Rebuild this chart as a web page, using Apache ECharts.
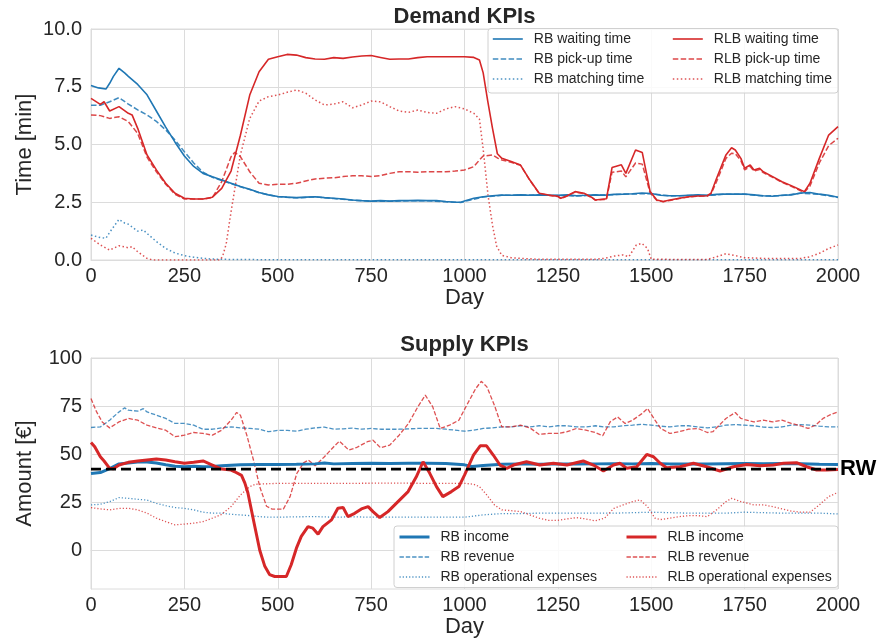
<!DOCTYPE html>
<html><head><meta charset="utf-8">
<script src="https://cdn.jsdelivr.net/npm/echarts@6/dist/echarts.min.js"></script>
<style>html,body{margin:0;padding:0;background:#fff}#c{width:880px;height:643px}</style>
</head><body><div id="c"></div>
<script>
// ---------- Data (day, value) ----------
const dayTicks = [0, 250, 500, 750, 1000, 1250, 1500, 1750, 2000];
const timeTicks = [0, 2.5, 5, 7.5, 10];
const amountTicks = [0, 25, 50, 75, 100];
const rwLevel = 42.3;

const rbWaiting = [[0,7.55],[20,7.45],[40,7.4],[50,7.65],[60,7.95],[75,8.3],[90,8.1],[100,7.95],[125,7.6],[150,7.15],[175,6.45],[200,5.75],[225,5.1],[250,4.5],[275,4.05],[300,3.75],[325,3.6],[350,3.46],[375,3.32],[400,3.18],[425,3.06],[450,2.92],[475,2.82],[500,2.75],[525,2.72],[550,2.7],[575,2.72],[600,2.74],[625,2.7],[650,2.67],[675,2.64],[700,2.6],[725,2.57],[750,2.55],[775,2.57],[800,2.55],[825,2.57],[850,2.57],[875,2.58],[900,2.57],[925,2.57],[950,2.53],[975,2.5],[990,2.5],[1000,2.55],[1025,2.67],[1050,2.74],[1075,2.78],[1100,2.81],[1125,2.8],[1150,2.82],[1175,2.8],[1200,2.82],[1225,2.8],[1250,2.8],[1275,2.82],[1300,2.78],[1325,2.8],[1350,2.82],[1375,2.8],[1400,2.84],[1425,2.85],[1450,2.87],[1475,2.9],[1500,2.88],[1525,2.8],[1550,2.78],[1575,2.78],[1600,2.8],[1625,2.82],[1650,2.8],[1675,2.84],[1700,2.86],[1725,2.85],[1750,2.86],[1775,2.82],[1800,2.78],[1825,2.76],[1850,2.8],[1875,2.82],[1900,2.9],[1925,2.92],[1950,2.85],[1975,2.8],[2000,2.72]];
const rbPickup = [[0,6.7],[25,6.7],[50,6.85],[75,7.03],[100,6.75],[125,6.5],[150,6.28],[175,6.0],[200,5.63],[225,5.19],[250,4.69],[275,4.2],[300,3.8],[325,3.58],[350,3.44],[375,3.31],[400,3.17],[425,3.05],[450,2.91],[500,2.74],[550,2.69],[600,2.73],[650,2.66],[700,2.59],[750,2.54],[800,2.54],[850,2.56],[900,2.56],[950,2.52],[990,2.49],[1050,2.73],[1100,2.8],[1150,2.81],[1200,2.81],[1250,2.79],[1300,2.77],[1350,2.81],[1400,2.83],[1450,2.86],[1500,2.87],[1550,2.77],[1600,2.79],[1650,2.79],[1700,2.85],[1750,2.85],[1800,2.77],[1850,2.79],[1900,2.89],[1950,2.84],[2000,2.71]];
const rbMatching = [[0,1.08],[25,0.97],[40,0.94],[50,1.2],[75,1.76],[90,1.6],[100,1.55],[125,1.25],[140,1.3],[150,1.15],[175,0.8],[200,0.5],[225,0.3],[250,0.19],[275,0.12],[300,0.07],[325,0.04],[350,0.03],[400,0.02],[500,0.01],[1000,0.01],[1500,0.01],[2000,0.01]];
const rlbWaiting = [[0,7.0],[25,6.74],[35,6.85],[50,6.45],[75,6.64],[100,6.35],[110,6.28],[125,5.7],[150,4.55],[175,3.9],[200,3.32],[225,2.89],[250,2.67],[275,2.64],[300,2.64],[325,2.72],[350,3.1],[375,3.85],[400,5.4],[425,7.14],[450,8.15],[475,8.69],[500,8.8],[525,8.9],[550,8.87],[575,8.76],[600,8.7],[625,8.69],[650,8.76],[675,8.73],[700,8.79],[725,8.83],[750,8.85],[775,8.77],[800,8.69],[825,8.7],[850,8.7],[875,8.76],[900,8.8],[925,8.8],[950,8.8],[975,8.8],[1000,8.8],[1025,8.77],[1040,8.66],[1050,8.1],[1062,6.9],[1075,5.7],[1088,4.6],[1100,4.4],[1125,4.26],[1150,4.11],[1175,3.46],[1200,2.89],[1225,2.81],[1250,2.76],[1258,2.67],[1275,2.78],[1296,2.96],[1320,2.89],[1340,2.72],[1350,2.6],[1380,2.65],[1395,4.0],[1420,4.12],[1432,3.75],[1458,4.76],[1476,4.65],[1497,2.96],[1515,2.6],[1532,2.53],[1550,2.6],[1575,2.67],[1600,2.74],[1625,2.77],[1650,2.78],[1660,2.89],[1675,3.54],[1700,4.55],[1715,4.86],[1725,4.76],[1740,4.4],[1750,3.97],[1765,4.11],[1775,3.9],[1790,3.97],[1800,3.82],[1825,3.61],[1850,3.39],[1875,3.22],[1900,3.03],[1910,2.96],[1925,3.32],[1950,4.4],[1975,5.41],[2000,5.77]];
const rlbPickup = [[0,6.28],[25,6.25],[50,6.13],[75,6.2],[100,5.99],[125,5.48],[150,4.45],[175,3.82],[200,3.28],[225,2.84],[250,2.64],[275,2.64],[300,2.64],[325,2.7],[350,3.39],[375,4.47],[385,4.66],[400,4.47],[425,3.82],[450,3.32],[475,3.25],[500,3.28],[525,3.28],[550,3.32],[575,3.42],[600,3.51],[625,3.54],[650,3.56],[675,3.61],[700,3.65],[725,3.65],[750,3.61],[775,3.65],[800,3.75],[825,3.82],[850,3.82],[875,3.8],[900,3.82],[925,3.82],[950,3.82],[975,3.85],[1000,3.9],[1025,4.04],[1040,4.33],[1050,4.5],[1075,4.55],[1090,4.4],[1100,4.33],[1125,4.23],[1150,4.1],[1175,3.45],[1200,2.88],[1225,2.8],[1250,2.75],[1258,2.66],[1275,2.77],[1296,2.94],[1320,2.87],[1340,2.71],[1350,2.59],[1380,2.63],[1395,3.8],[1420,3.85],[1432,3.6],[1458,4.2],[1476,4.15],[1497,2.9],[1515,2.58],[1532,2.52],[1550,2.58],[1575,2.66],[1600,2.73],[1625,2.76],[1650,2.77],[1660,2.85],[1675,3.4],[1700,4.4],[1715,4.62],[1725,4.6],[1740,4.3],[1750,3.9],[1765,4.05],[1775,3.85],[1790,3.92],[1800,3.78],[1825,3.58],[1850,3.36],[1875,3.19],[1900,3.0],[1910,2.93],[1925,3.2],[1950,4.2],[1975,4.95],[2000,5.27]];
const rlbMatching = [[0,0.94],[25,0.65],[50,0.43],[75,0.62],[100,0.53],[110,0.58],[125,0.36],[150,0.07],[165,0],[345,0],[352,0.14],[362,0.7],[375,2.09],[400,4.55],[425,6.13],[450,6.88],[475,7.07],[500,7.14],[525,7.26],[550,7.36],[575,7.22],[600,6.93],[625,6.71],[650,6.75],[675,6.85],[700,6.59],[725,6.71],[750,6.88],[775,6.85],[800,6.64],[825,6.45],[850,6.39],[875,6.49],[900,6.39],[925,6.35],[950,6.54],[975,6.64],[1000,6.54],[1025,6.35],[1040,6.1],[1050,4.8],[1063,2.8],[1075,1.5],[1086,0.6],[1100,0.2],[1125,0.1],[1150,0.07],[1200,0.03],[1350,0.03],[1375,0.07],[1400,0.17],[1425,0.22],[1440,0.14],[1460,0.65],[1475,0.72],[1490,0.5],[1500,0.03],[1650,0.02],[1675,0.14],[1700,0.27],[1725,0.19],[1750,0.1],[1800,0.07],[1900,0.07],[1925,0.14],[1950,0.29],[1975,0.5],[2000,0.65]];

const rbIncome = [[0,40],[25,40.5],[50,42.5],[75,45],[100,45.5],[125,46],[150,46],[175,45.5],[200,44.5],[225,43.8],[250,43.5],[275,43.8],[300,43.5],[325,43.6],[350,44],[375,44.3],[400,44.5],[450,44.7],[500,44.7],[550,44.8],[600,45],[625,45.5],[650,45],[700,45.2],[750,45.3],[800,45.2],[850,45.3],[900,45.3],[950,45.2],[1000,44.5],[1020,43.6],[1050,44.2],[1100,44.8],[1150,45],[1200,44.8],[1250,45],[1300,44.9],[1350,45],[1400,45.1],[1450,45],[1500,45.2],[1550,45],[1600,45],[1650,44.9],[1700,45.1],[1750,45.2],[1800,45.1],[1850,45.2],[1900,45.1],[1950,44.8],[2000,44.7]];
const rbRevenue = [[0,63.9],[25,64.2],[50,67.7],[75,72],[90,74.1],[100,72.9],[125,72.4],[140,73.7],[150,72],[175,70.3],[200,68.6],[225,66],[250,66],[275,65.1],[300,63],[325,63],[350,63.7],[375,64.2],[400,63.7],[425,63.4],[450,63],[475,61.7],[500,62.4],[525,62.4],[550,62],[575,63],[600,63.7],[625,64.1],[650,63],[675,63.2],[700,63.6],[725,63],[750,63.4],[775,63],[800,63],[825,63],[850,63.2],[875,63.4],[900,63.4],[925,63.4],[950,63],[975,62.5],[1000,62],[1025,62.5],[1050,63.4],[1075,63.7],[1100,64.2],[1125,64.2],[1150,64.8],[1175,64.2],[1200,64.8],[1225,64.2],[1250,64.8],[1275,64.8],[1300,64.2],[1325,64.2],[1350,64.8],[1375,64.2],[1400,64.2],[1425,64.8],[1450,65.1],[1475,65.6],[1500,65.1],[1525,64.6],[1550,64.2],[1575,64.8],[1600,64.8],[1625,64.2],[1650,63.7],[1675,64.2],[1700,65.1],[1725,65.4],[1750,65.1],[1775,64.8],[1800,64.1],[1825,63.9],[1850,64.2],[1875,65.1],[1900,65.4],[1925,65.1],[1950,64.6],[1975,64.2],[2000,64.2]];
const rbOpex = [[0,23.7],[25,24],[50,25.4],[75,27.5],[100,27.1],[125,26.6],[150,26.2],[175,24.5],[200,23.3],[225,22.3],[250,21.9],[275,21.1],[300,19.9],[325,19.4],[350,19.4],[375,18.8],[400,18.5],[425,18.1],[450,17.6],[475,17.3],[500,17.3],[550,17.5],[600,17.6],[650,17.3],[700,17.5],[750,17.3],[800,17.3],[900,17.3],[1000,17.3],[1050,18.5],[1100,19.2],[1150,19.2],[1200,19.4],[1300,19.4],[1400,19.4],[1500,19.9],[1600,19.4],[1700,19.4],[1750,19.9],[1850,19.4],[1950,19.4],[2000,19]];
const rlbIncome = [[0,56.1],[10,53.9],[25,48.7],[35,46.5],[50,42.7],[60,42.5],[75,44.4],[100,45.8],[125,46.5],[150,47],[175,47.5],[200,47],[225,46.1],[250,45.3],[275,45.8],[300,46.5],[325,44.4],[350,42.3],[375,41.8],[385,40.9],[403,39],[412,35],[420,30],[438,13],[452,0],[465,-8],[478,-12.5],[492,-13.5],[523,-13.5],[536,-7.4],[550,1.2],[563,7.3],[581,12.4],[594,11.6],[608,8.5],[621,12.4],[644,15.9],[661,21.9],[675,22.3],[688,17.6],[706,19.3],[724,21.6],[742,22.8],[755,20.2],[773,17.1],[795,20.2],[822,25.4],[849,30.6],[871,38.3],[889,46.1],[907,40.1],[925,33.2],[942,28],[965,30.6],[985,33.2],[1000,39.2],[1006,41.8],[1024,49.6],[1042,54.4],[1059,54.4],[1077,49.6],[1095,44.4],[1113,42.7],[1131,44.4],[1166,46.1],[1202,44.4],[1238,45.3],[1274,44.4],[1318,46.5],[1345,44.4],[1372,41.3],[1399,44.4],[1416,45.3],[1434,42.7],[1461,43.5],[1488,49.9],[1506,48.7],[1524,45.3],[1541,43],[1577,43.5],[1613,45.3],[1648,43.5],[1684,41.3],[1720,43.5],[1756,44.7],[1791,44],[1827,44.4],[1854,45.3],[1889,45.6],[1916,43.5],[1943,41.8],[1970,41.8],[2000,42.1]];
const rlbRevenue = [[0,78.9],[15,72],[30,66.8],[50,63.7],[75,66.8],[100,68.6],[125,67.7],[150,65.1],[175,63.7],[200,62.5],[225,59.1],[250,59.9],[275,61.3],[300,60.8],[325,59.9],[350,62.5],[375,67.7],[390,71.7],[400,70.3],[417,60],[435,47],[452,33],[470,23],[485,21.5],[515,21.5],[533,28],[551,40],[569,45.5],[582,47],[600,44],[625,48.7],[650,53.9],[665,56.8],[690,52.2],[710,53.4],[740,56.5],[755,57.3],[775,53.4],[800,54.8],[825,59.9],[850,66],[875,74.6],[895,80.7],[915,74.6],[935,63.4],[960,65.1],[985,67.7],[1006,75.5],[1030,84.1],[1045,87.9],[1060,85],[1080,75.5],[1100,64.2],[1125,64.2],[1150,65.1],[1175,63.7],[1200,60.3],[1225,60.8],[1250,60.8],[1275,61.7],[1300,63.4],[1325,62.5],[1350,61.3],[1370,59.6],[1390,66.8],[1410,69.4],[1430,66],[1450,67.7],[1475,71.1],[1490,73.8],[1510,67.7],[1525,63.4],[1550,60.8],[1575,61.7],[1600,63],[1625,63.4],[1650,61.3],[1665,61.7],[1675,63.7],[1700,68.6],[1725,71.7],[1740,68.6],[1750,68],[1775,66.8],[1800,67.7],[1825,66.8],[1850,67.7],[1875,66],[1900,64.8],[1920,63.4],[1940,65.1],[1960,68.6],[1980,70.6],[2000,72]];
const rlbOpex = [[0,22.3],[25,21.6],[50,21.1],[75,21.9],[100,21.9],[125,21.1],[150,19.4],[175,16.8],[200,15],[225,13.3],[250,13.7],[275,14.2],[300,15],[325,16.8],[350,18.8],[375,22.8],[400,28.8],[425,33.2],[440,34.4],[500,34.9],[600,34.9],[700,34.9],[800,35],[900,34.9],[1000,34.9],[1025,34.4],[1040,33.2],[1060,28.8],[1080,23.7],[1100,21.1],[1125,20.7],[1150,20.2],[1175,18.5],[1200,16.8],[1225,15.7],[1250,15.7],[1275,16.4],[1300,17.1],[1325,16.4],[1350,15.4],[1375,16.8],[1400,21.9],[1425,23.7],[1450,25.4],[1470,26.3],[1490,22.8],[1510,16.8],[1525,16.1],[1550,16.8],[1575,17.6],[1600,18.1],[1625,18.1],[1650,17.6],[1675,21.1],[1700,25.4],[1715,27.1],[1740,25.4],[1775,23.7],[1800,23.7],[1825,22.8],[1850,21.6],[1875,20.5],[1900,19.9],[1925,19.9],[1950,23.7],[1975,28],[2000,30.2]];

// ---------- Styling ----------
const FONT = "'Liberation Sans', Arial, sans-serif";
const TXT = '#262626';
const BLUE = '#1f77b4', RED = '#d62728';
const GRIDC = '#dcdcdc';

function ln(name, data, gi, color, width, type, opacity, z) {
  return {
    name, type: 'line', data, xAxisIndex: gi, yAxisIndex: gi,
    showSymbol: false, symbol: 'none', animation: false, z: z || 2,
    lineStyle: { color, width, type, opacity: opacity == null ? 1 : opacity },
    itemStyle: { color },
    emphasis: { disabled: true }
  };
}

function xAx(gi) {
  return {
    type: 'value', gridIndex: gi, min: 0, max: 2000, interval: 250,
    name: 'Day', nameLocation: 'middle', nameGap: 27, nameMoveOverlap: false,
    nameTextStyle: { fontSize: 22, color: TXT, fontFamily: FONT },
    axisLabel: { fontSize: 20, color: TXT, fontFamily: FONT, margin: 6,
      customValues: dayTicks, formatter: v => String(v) },
    axisTick: { show: false },
    axisLine: { show: true, lineStyle: { color: GRIDC } },
    splitLine: { show: true, lineStyle: { color: GRIDC, width: 1 } }
  };
}

const solid = 'solid', dashT = [5.5, 2.4], dotT = [1.5, 2.5], dashB = [4.4, 1.9], dotB = [1.2, 2];

const legendText = { fontSize: 14, color: TXT, fontFamily: FONT, lineHeight: 14, padding: [0, 0, 0, 6] };
function lg(left, top, names) {
  return {
    orient: 'vertical', left, top, data: names, itemWidth: 30, itemHeight: 14,
    itemGap: 6, selectedMode: false, textStyle: legendText, padding: 0,
    itemStyle: { opacity: 0, borderWidth: 0 },
    lineStyle: { width: 'inherit', type: 'inherit', opacity: 'inherit' }
  };
}

const option = {
  backgroundColor: '#ffffff',
  animation: false,
  title: [
    { text: 'Demand KPIs', left: 464.5, top: 6, textAlign: 'center', padding: 0,
      textStyle: { fontSize: 22, fontWeight: 'bold', color: TXT, fontFamily: FONT } },
    { text: 'Supply KPIs', left: 464.5, top: 334, textAlign: 'center', padding: 0,
      textStyle: { fontSize: 22, fontWeight: 'bold', color: TXT, fontFamily: FONT } }
  ],
  grid: [
    { left: 91, width: 747, top: 29, height: 231, show: true, borderColor: GRIDC, borderWidth: 1, backgroundColor: 'transparent' },
    { left: 91, width: 747, top: 358, height: 231, show: true, borderColor: GRIDC, borderWidth: 1, backgroundColor: 'transparent' }
  ],
  xAxis: [xAx(0), xAx(1)],
  yAxis: [
    { type: 'value', gridIndex: 0, min: 0, max: 10, interval: 2.5,
      name: 'Time [min]', nameLocation: 'middle', nameGap: 55, nameMoveOverlap: false,
      nameTextStyle: { fontSize: 22, color: TXT, fontFamily: FONT },
      axisLabel: { fontSize: 20, color: TXT, fontFamily: FONT, margin: 9, customValues: timeTicks, formatter: v => v.toFixed(1) },
      axisTick: { show: false },
      axisLine: { show: true, lineStyle: { color: GRIDC } },
      splitLine: { show: true, lineStyle: { color: GRIDC, width: 1 } } },
    { type: 'value', gridIndex: 1, min: -20, max: 100,
      name: 'Amount [€]', nameLocation: 'middle', nameGap: 55, nameMoveOverlap: false,
      nameTextStyle: { fontSize: 22, color: TXT, fontFamily: FONT },
      axisLabel: { fontSize: 20, color: TXT, fontFamily: FONT, margin: 9, customValues: amountTicks },
      axisTick: { show: false, customValues: amountTicks },
      axisLine: { show: true, lineStyle: { color: GRIDC } },
      splitLine: { show: true, lineStyle: { color: GRIDC, width: 1 } } }
  ],
  legend: [
    lg(492, 32, ['RB waiting time', 'RB pick-up time', 'RB matching time']),
    lg(672, 32, ['RLB waiting time', 'RLB pick-up time', 'RLB matching time']),
    lg(398, 530, ['RB income', 'RB revenue', 'RB operational expenses']),
    lg(625, 530, ['RLB income', 'RLB revenue', 'RLB operational expenses'])
  ],
  graphic: [
    { type: 'rect', z: 1, shape: { x: 488, y: 28.5, width: 350, height: 64.5, r: 3 },
      style: { fill: 'rgba(255,255,255,0.85)', stroke: '#d0d0d0', lineWidth: 1 } },
    { type: 'rect', z: 1, shape: { x: 394, y: 526, width: 444, height: 61.5, r: 3 },
      style: { fill: 'rgba(255,255,255,0.85)', stroke: '#d0d0d0', lineWidth: 1 } }
  ],
  series: [
    ln('RB waiting time', rbWaiting, 0, BLUE, 1.6, solid, 1, 3),
    ln('RB pick-up time', rbPickup, 0, BLUE, 1.5, dashT, 0.85),
    ln('RB matching time', rbMatching, 0, BLUE, 1.5, dotT, 0.8),
    ln('RLB waiting time', rlbWaiting, 0, RED, 1.6, solid, 1, 3),
    ln('RLB pick-up time', rlbPickup, 0, RED, 1.5, dashT, 0.85),
    ln('RLB matching time', rlbMatching, 0, RED, 1.5, dotT, 0.8),

    ln('RB income', rbIncome, 1, BLUE, 3, solid, 1, 3),
    ln('RB revenue', rbRevenue, 1, BLUE, 1.3, dashB, 0.8),
    ln('RB operational expenses', rbOpex, 1, BLUE, 1.3, dotB, 0.8),
    ln('RLB income', rlbIncome, 1, RED, 3, solid, 1, 3),
    ln('RLB revenue', rlbRevenue, 1, RED, 1.3, dashB, 0.8),
    ln('RLB operational expenses', rlbOpex, 1, RED, 1.3, dotB, 0.8),
    {
      name: 'RW', type: 'line', xAxisIndex: 1, yAxisIndex: 1, z: 5,
      data: [[0, rwLevel], [2000, rwLevel]], showSymbol: false, symbol: 'none',
      lineStyle: { color: '#000', width: 2.8, type: [10, 5] },
      emphasis: { disabled: true },
      endLabel: { show: true, formatter: 'RW', distance: 2, color: '#000',
        fontSize: 22, fontWeight: 'bold', fontFamily: FONT }
    }
  ]
};

const chart = echarts.init(document.getElementById('c'), null, { renderer: 'canvas' });
chart.setOption(option);
</script>
</body></html>
